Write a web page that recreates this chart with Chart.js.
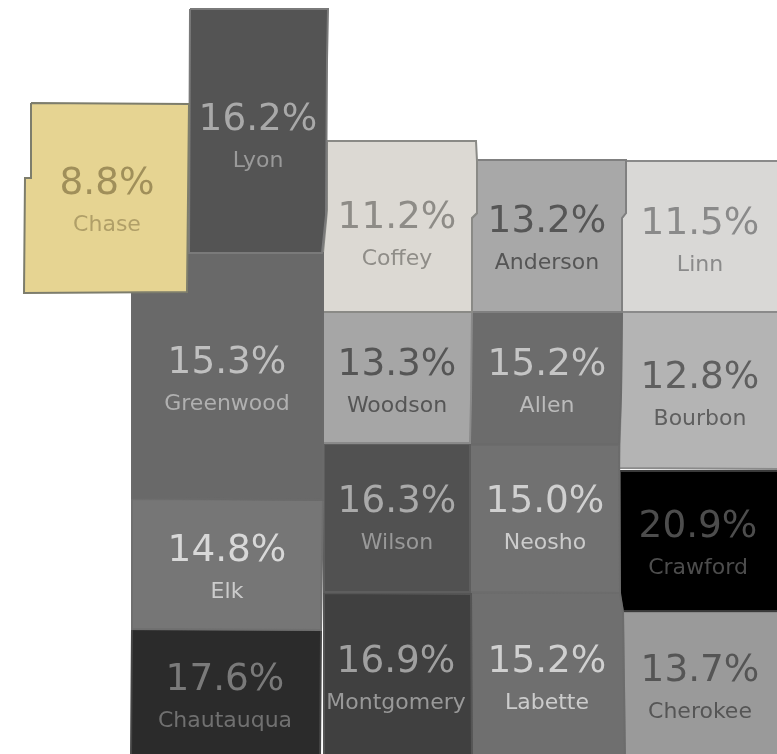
<!DOCTYPE html>
<html>
<head>
<meta charset="utf-8">
<title>County rates</title>
<script src="https://cdn.jsdelivr.net/npm/chart.js@4/dist/chart.umd.min.js"></script>
<style>
  html, body { margin: 0; padding: 0; background: #fff; overflow: hidden; }
  canvas { display: block; filter: blur(0.6px); }
</style>
</head>
<body>
<canvas id="map" width="777" height="754"></canvas>
<script>
// County names and rates, first one is painted on top
const counties = ["Chase", "Lyon", "Greenwood", "Elk", "Chautauqua", "Coffey", "Woodson", "Wilson", "Montgomery",
  "Anderson", "Allen", "Neosho", "Labette", "Linn", "Bourbon", "Crawford", "Cherokee"];
const rates = [8.8, 16.2, 15.3, 14.8, 17.6, 11.2, 13.3, 16.3, 16.9, 13.2, 15.2, 15.0, 15.2, 11.5, 12.8, 20.9, 13.7];

// County outlines in map units, [x, y] per vertex
const chaseOutline = [[31,103],[189,104],[187,292],[24,293],[25,178],[31,178]];
const lyonOutline = [[190,9],[328,9],[327,60],[326,215],[322,253],[189,253]];
const greenwoodOutline = [[188,253],[323,253],[323,500],[132,498],[132,293],[187,293]];
const elkOutline = [[132,499],[323,500],[322,560],[321,630],[132,629]];
const chautauquaOutline = [[132,629],[321,630],[320,760],[131,760]];
const coffeyOutline = [[327,141],[476,141],[477,161],[477,213],[472,218],[472,312],[323,312],[323,253],[327,210]];
const woodsonOutline = [[323,312],[472,312],[471,400],[470,443],[323,443]];
const wilsonOutline = [[324,444],[470,444],[470,592],[324,592]];
const montgomeryOutline = [[324,593],[471,594],[472,760],[324,760]];
const andersonOutline = [[477,160],[626,160],[626,213],[622,218],[622,312],[472,312],[472,218],[477,213]];
const allenOutline = [[472,312],[622,312],[621,395],[619,444],[470,444],[471,400]];
const neoshoOutline = [[470,445],[619,445],[620,593],[470,592]];
const labetteOutline = [[471,593],[620,593],[623,612],[625,760],[472,760]];
const linnOutline = [[626,161],[782,161],[782,312],[622,312],[622,218],[626,213]];
const bourbonOutline = [[622,312],[782,312],[782,469],[619,468],[621,395]];
const crawfordOutline = [[620,471],[782,471],[782,611],[623,611],[620,596]];
const cherokeeOutline = [[623,612],[782,612],[782,760],[625,760]];

const outlines = [chaseOutline, lyonOutline, greenwoodOutline, elkOutline, chautauquaOutline, coffeyOutline,
  woodsonOutline, wilsonOutline, montgomeryOutline, andersonOutline, allenOutline, neoshoOutline, labetteOutline,
  linnOutline, bourbonOutline, crawfordOutline, cherokeeOutline];

// Fill and text colours, same order as counties
const fills = ["#e6d492", "#545454", "#696969", "#767676", "#2b2b2b", "#dcd9d3", "#a6a6a6", "#515151", "#404040",
  "#a8a8a8", "#6c6c6c", "#717171", "#6f6f6f", "#d9d8d6", "#b4b4b4", "#000000", "#9a9a9a"];
const rateColors = ["#a08f5a", "#a9a9a9", "#c0c0c0", "#d8d8d8", "#7a7a7a", "#8e8c87", "#555555", "#aaaaaa", "#a0a0a0",
  "#565656", "#c5c5c5", "#d0d0d0", "#d0d0d0", "#8a8a8a", "#5f5f5f", "#4d4d4d", "#555555"];
const nameColors = ["#b09f68", "#9a9a9a", "#b0b0b0", "#cccccc", "#707070", "#8f8d88", "#555555", "#999999", "#999999",
  "#555555", "#bbbbbb", "#cccccc", "#cccccc", "#8a8a8a", "#5f5f5f", "#4d4d4d", "#555555"];
const borders = ["#7d7d6c", "#7a7a7a", "#6a6a6a", "#6f6f6f", "#454545", "#8a8a86", "#8a8a8a", "#5e5e5e", "#555555",
  "#808080", "#6a6a6a", "#6c6c6c", "#6c6c6c", "#8a8a8a", "#8a8a8a", "#3a3a3a", "#8a8a8a"];

// Where each county's text is centred, in map units
const labelAnchors = [[107,184,225],[258,120,161],[227,363,404],[227,551,592],[225,680,721],[397,218,259],[397,365,406],
  [397,502,543],[396,662,703],[547,222,263],[547,365,406],[545,502,543],[547,662,703],[700,224,265],[700,378,419],
  [698,527,568],[700,671,712]];

// Plugin untuk menulis persen dan nama county di atas peta
const countyLabels = {
  id: "countyLabels",
  afterDatasetsDraw(chart) {
    const ctx = chart.ctx;
    const xScale = chart.scales.x;
    const yScale = chart.scales.y;
    ctx.save();
    ctx.textAlign = "center";
    ctx.textBaseline = "middle";
    counties.forEach((name, i) => {
      const [x, rateY, nameY] = labelAnchors[i];
      ctx.font = '37.4px "DejaVu Sans"';
      ctx.fillStyle = rateColors[i];
      ctx.fillText(rates[i].toFixed(1) + "%", xScale.getPixelForValue(x), yScale.getPixelForValue(rateY));
      ctx.font = '22px "DejaVu Sans"';
      ctx.fillStyle = nameColors[i];
      ctx.fillText(name, xScale.getPixelForValue(x), yScale.getPixelForValue(nameY));
    });
    ctx.restore();
  },
};

new Chart(document.getElementById("map").getContext("2d"), {
  type: "scatter",
  data: {
    datasets: counties.map((name, i) => ({
      label: name,
      data: outlines[i].concat([outlines[i][0]]).map(([x, y]) => ({ x, y })),
      showLine: true,
      fill: "shape",
      tension: 0,
      backgroundColor: fills[i],
      borderColor: borders[i],
      borderWidth: 2,
      pointRadius: 0,
      pointHoverRadius: 0,
    })),
  },
  options: {
    responsive: false,
    animation: false,
    layout: { padding: 0 },
    plugins: { legend: { display: false }, tooltip: { enabled: false } },
    scales: {
      x: { type: "linear", display: false, min: 0, max: 777 },
      y: { type: "linear", display: false, min: 0, max: 754, reverse: true },
    },
  },
  plugins: [countyLabels],
});
</script>
</body>
</html>
